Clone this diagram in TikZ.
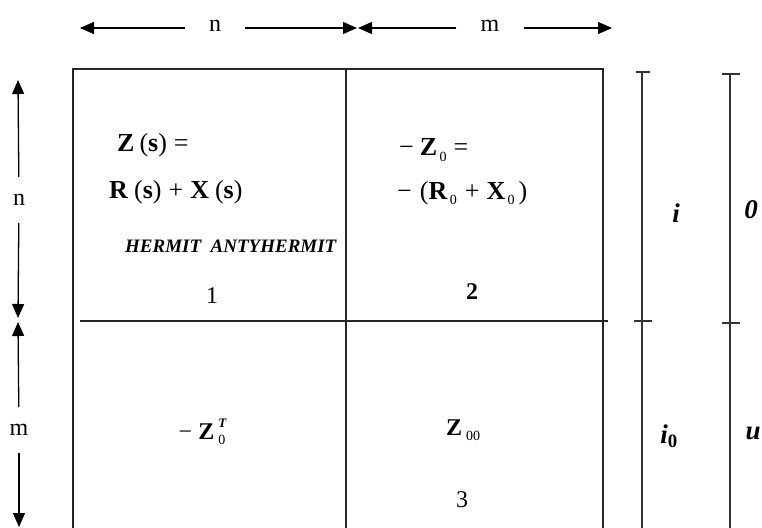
\documentclass[tikz,border=0pt]{standalone}
\usepackage{fontspec}
\setmainfont{Liberation Serif}
\usepackage{tikz}
\usetikzlibrary{arrows.meta, positioning, calc}
\newcommand{\lowidx}[1]{\raisebox{-0.45ex}{\fontsize{14}{14}\selectfont #1}}
\newcommand{\highidx}[1]{\raisebox{1.1ex}{\fontsize{13}{13}\selectfont\textit{\textbf{#1}}}}

\begin{document}
\begin{tikzpicture}[
  x=1pt, y=-1pt,
  font=\fontsize{24}{26}\selectfont,
  dim/.style={-{Triangle[length=14pt, width=12pt]}, line width=1.3pt, black},
  grid/.style={line width=1.2pt, black!85},
  scale line/.style={line width=1.1pt, black!80},
  dlbl/.style={inner xsep=24pt, inner ysep=10pt},
  cell/.style={anchor=west, inner sep=0pt, font=\fontsize{26}{28}\selectfont},
  side/.style={font=\fontsize{27}{29}\selectfont\bfseries\itshape, inner sep=1pt}
]
\useasboundingbox (0,0) rectangle (762,527);
\clip (0,0) rectangle (762,527);

% top dimension arrows
\node[dlbl] (ntop) at (215,26) {n};
\node[dlbl] (mtop) at (490,26) {m};
\coordinate (tA) at (80,28);
\coordinate (tB) at (357,28);
\coordinate (tC) at (358,28);
\coordinate (tD) at (612,28);
\draw[dim] (ntop.west |- tA) -- (tA);
\draw[dim] (ntop.east |- tB) -- (tB);
\draw[dim] (mtop.west |- tC) -- (tC);
\draw[dim] (mtop.east |- tD) -- (tD);

% left dimension arrows
\node[dlbl, inner xsep=4pt, inner ysep=17pt] (nleft) at (19,200) {n};
\node[dlbl, inner xsep=4pt, inner ysep=17pt] (mleft) at (19,430) {m};
\coordinate (lA) at (18,80);
\coordinate (lB) at (18,318);
\coordinate (lC) at (18,322);
\coordinate (lD) at (19,527);
\draw[dim] (nleft) -- (lA);
\draw[dim] (nleft) -- (lB);
\draw[dim] (mleft) -- (lC);
\draw[dim] (mleft) -- (lD);

% the block matrix
\draw[grid] (73,540) -- (73,69) -- (603,69) -- (603,540);
\draw[grid] (346,69) -- (346,540);
\draw[grid] (80,321) -- (608,321);

% block 1
\node[cell] (z1) at (117,145) {\textbf{Z}\hspace{5pt}(\textbf{s})\hspace{7pt}=};
\node[cell] (z1b) at (109,192) {\textbf{R}\hspace{6pt}(\textbf{s})\hspace{7pt}+\hspace{7pt}\textbf{X}\hspace{6pt}(\textbf{s})};
\node[cell, font=\fontsize{19}{21}\selectfont\bfseries\itshape] (herm) at (125,246) {HERMIT\enspace ANTYHERMIT};
\node (b1) at (212,296) {1};

% block 2
\node[cell] (z2) at (399,150) {−\hspace{6pt}\textbf{Z}\lowidx{\,0}\hspace{7pt}=};
\node[cell] (z2b) at (397,193) {−\hspace{8pt}(\textbf{R}\lowidx{\,0}\hspace{8pt}+\hspace{7pt}\textbf{X}\lowidx{\,0}\hspace{4pt})};
\node (b2) at (472,292) {\textbf{2}};

% blocks 3 and 4
\node (z3) at (202,432) {−\hspace{6pt}\textbf{Z}\,\rlap{\highidx{T}}\lowidx{0}};
\node (z4) at (463,430) {\textbf{Z}\,\lowidx{00}};
\node (b3) at (462,500) {3};

% right scales
\draw[scale line] (642,72) -- (642,540);
\draw[scale line] (636,72) -- (650,72);
\draw[scale line] (634,321) -- (652,321);
\draw[scale line] (730,74) -- (730,540);
\draw[scale line] (722,74) -- (740,74);
\draw[scale line] (722,323) -- (740,323);
\node[side] (si) at (676,213) {i};
\node[side] (si0) at (669,436) {i\textsubscript{\upshape 0}};
\node[side] (s0) at (751,210) {0};
\node[side] (su) at (753,433) {u};

\end{tikzpicture}
\end{document}
